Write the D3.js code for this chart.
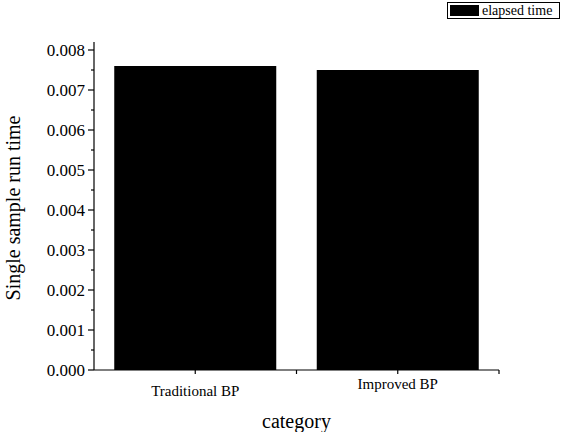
<!DOCTYPE html>
<html><head><meta charset="utf-8">
<script src="https://cdn.jsdelivr.net/npm/d3@7"></script>
<style>body{margin:0;background:#fff}svg{display:block}</style>
</head><body>
<script>
const categories = ["Traditional BP", "Improved BP"];
const values = [0.0076, 0.0075];
const yTicks = [0, 0.001, 0.002, 0.003, 0.004, 0.005, 0.006, 0.007, 0.008];
const yMinor = [0.0005, 0.0015, 0.0025, 0.0035, 0.0045, 0.0055, 0.0065, 0.0075];
const seriesName = "elapsed time";
const xTitle = "category";
const yTitle = "Single sample run time";

(function () {
const FONT = "'Liberation Serif', 'Times New Roman', 'DejaVu Serif', serif";
const W = 561, H = 432;
const svg = d3.select("body").append("svg").attr("width", W).attr("height", H)
  .attr("font-family", FONT);
const mLeft = 94, mRight = 499, mTop = 42, mBottom = 370;

const x = d3.scaleBand().domain(categories).range([mLeft, mRight]).padding(0);
const y = d3.scaleLinear().domain([0, 0.0082]).range([mBottom, mTop]);

// bars
const bw = x.bandwidth() * 0.8;
svg.selectAll("rect.bar").data(values).enter().append("rect")
  .attr("x", (d, i) => x(categories[i]) + (x.bandwidth() - bw) / 2)
  .attr("y", d => y(d))
  .attr("width", bw)
  .attr("height", d => y(0) - y(d))
  .attr("fill", "#000");

// y axis
const yAxis = svg.append("g").attr("transform", `translate(${mLeft},0)`);
yAxis.append("line").attr("x1", 0).attr("x2", 0).attr("y1", y(0.0082)).attr("y2", y(0)).attr("stroke", "#000").attr("stroke-width", 1.2);
yAxis.selectAll("line.maj").data(yTicks).enter().append("line")
  .attr("x1", -6).attr("x2", 0).attr("y1", d => y(d)).attr("y2", d => y(d)).attr("stroke", "#000").attr("stroke-width", 1.2);
yAxis.selectAll("line.min").data(yMinor).enter().append("line")
  .attr("x1", -3).attr("x2", 0).attr("y1", d => y(d)).attr("y2", d => y(d)).attr("stroke", "#000").attr("stroke-width", 1.2);
yAxis.selectAll("text").data(yTicks).enter().append("text")
  .attr("x", -9).attr("y", d => y(d)).attr("dy", "0.35em").attr("text-anchor", "end")
  .attr("font-family", FONT).attr("font-size", 17).text(d => d3.format(".3f")(d));

// x axis
const xAxis = svg.append("g").attr("transform", `translate(0,${mBottom})`);
xAxis.append("line").attr("x1", mLeft).attr("x2", mRight).attr("y1", 0).attr("y2", 0).attr("stroke", "#000").attr("stroke-width", 1.2);
const xTickPos = categories.map(c => x(c) + x.bandwidth() / 2);
const xBound = [x(categories[1]), mRight];
xAxis.selectAll("line.t").data(xTickPos.concat(xBound)).enter().append("line")
  .attr("x1", d => d).attr("x2", d => d).attr("y1", 0).attr("y2", 4).attr("stroke", "#000").attr("stroke-width", 1.2);
xAxis.selectAll("text").data(categories).enter().append("text")
  .attr("x", (d) => x(d) + x.bandwidth() / 2)
  .attr("y", (d, i) => i === 0 ? 26 : 19)
  .attr("text-anchor", "middle").attr("font-family", FONT).attr("font-size", 15).text(d => d);

// titles
svg.append("text").attr("x", (mLeft + mRight) / 2).attr("y", 428).attr("text-anchor", "middle")
  .attr("font-family", FONT).attr("font-size", 20).text(xTitle);
svg.append("text").attr("transform", `translate(20,${(mTop + mBottom) / 2 + 2}) rotate(-90)`)
  .attr("text-anchor", "middle").attr("font-family", FONT).attr("font-size", 20).text(yTitle);

// legend
const lg = svg.append("g");
lg.append("rect").attr("x", 447.5).attr("y", 2.5).attr("width", 112).attr("height", 16)
  .attr("fill", "#fff").attr("stroke", "#000").attr("stroke-width", 1);
lg.append("rect").attr("x", 450).attr("y", 5).attr("width", 29).attr("height", 11).attr("fill", "#000");
lg.append("text").attr("x", 482).attr("y", 15).attr("font-family", FONT).attr("font-size", 14).text(seriesName);
})();
</script>
</body></html>
